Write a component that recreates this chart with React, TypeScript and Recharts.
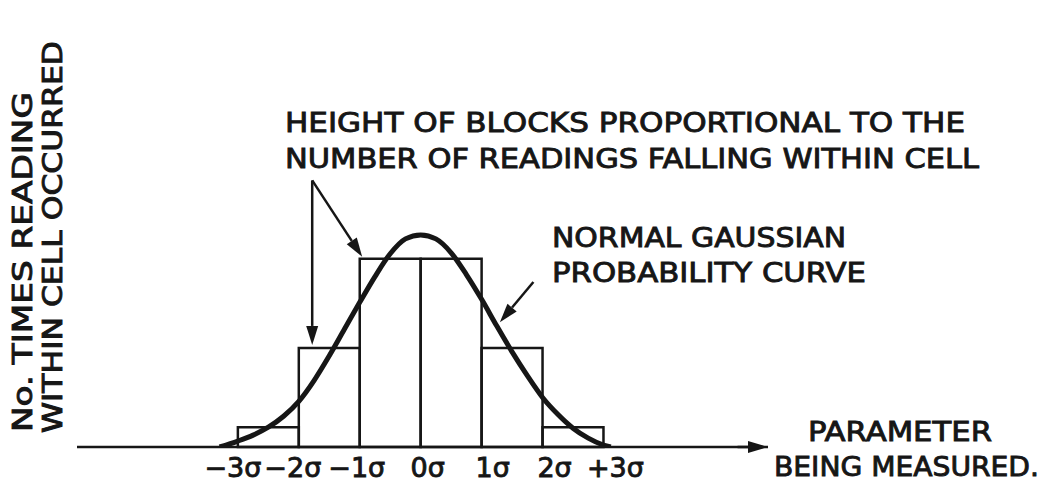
import { ComposedChart, Line, XAxis, YAxis, ReferenceArea, ReferenceLine } from 'recharts'

// cells of the histogram, in sigma units
const CELL_FROM = [-3, -2, -1, 0, 1, 2]
const CELL_TO = [-2, -1, 0, 1, 2, 3]
const CELL_COUNT = [2, 10, 19, 19, 10, 2]

// normal curve
const CURVE_S = [-3.3, -3.0, -2.75, -2.5, -2.25, -2.0, -1.75, -1.5, -1.25, -1.0, -0.75, -0.5, -0.25, 0, 0.25, 0.5, 0.75, 1.0, 1.25, 1.5, 1.75, 2.0, 2.25, 2.5, 2.75, 3.0, 3.12]
const CURVE_Y = [0, 0.6, 1.2, 2.0, 3.1, 4.6, 6.7, 9.2, 11.9, 14.6, 17.2, 19.5, 21.0, 21.4, 21.0, 19.6, 17.4, 14.9, 12.2, 9.6, 7.2, 5.0, 3.3, 1.9, 0.9, 0.2, 0]

const SIGMA_TICKS = [-3, -2, -1, 0, 1, 2, 3]
const TICK_LABELS = ['−3σ', '−2σ', '−1σ', '0σ', '1σ', '2σ', '+3σ']

const INK = '#161616'
const FONT = '"DejaVu Sans", "Liberation Sans", sans-serif'

const curve = CURVE_S.map((s, i) => ({ s, y: CURVE_Y[i] }))

// small nudges so the hand-lettered labels sit like in the original
const NUDGE = [-5, -6, -3, 7, 11, 12, 12]

const SigmaTick = ({ x, y, payload }: any) => {
  const i = SIGMA_TICKS.indexOf(payload.value)
  return (
    <text x={x + (NUDGE[i] ?? 0)} y={y + 30} textAnchor="middle" fontSize={27} fontFamily={FONT}
      fill={INK} stroke={INK} strokeWidth={0.9}>
      {TICK_LABELS[i]}
    </text>
  )
}

const Arrow = ({ x1, y1, x2, y2, head = 19, half = 6 }: any) => {
  if (x1 == null) return null
  const a = Math.atan2(y2 - y1, x2 - x1)
  const bx = x2 - head * Math.cos(a)
  const by = y2 - head * Math.sin(a)
  const px = -Math.sin(a) * half
  const py = Math.cos(a) * half
  return (
    <g>
      <line x1={x1} y1={y1} x2={bx} y2={by} stroke={INK} strokeWidth={2.5} />
      <polygon points={`${x2},${y2} ${bx + px},${by + py} ${bx - px},${by - py}`} fill={INK} />
    </g>
  )
}

const txt = { fontFamily: FONT, fontSize: 27, fill: INK, stroke: INK, strokeWidth: 0.9, lengthAdjust: 'spacingAndGlyphs' as const }

export default function App() {
  return (
    <div style={{ position: 'absolute', left: 0, top: 0, background: '#fff' }}>
      <ComposedChart width={1047} height={483} margin={{ top: 10, right: 279, bottom: 0, left: 77 }}>
        <XAxis type="number" dataKey="s" domain={[-5.64, 5.7]} ticks={SIGMA_TICKS} allowDataOverflow
          height={36} tickSize={0} tickMargin={0} tick={<SigmaTick />}
          axisLine={{ stroke: INK, strokeWidth: 2.5 }} tickLine={false} />
        <YAxis type="number" domain={[0, 44.1]} width={0} tick={false} tickLine={false}
          axisLine={{ stroke: INK, strokeWidth: 2.5 }} allowDataOverflow />

        {CELL_COUNT.map((c, i) => (
          <ReferenceArea key={i} x1={CELL_FROM[i]} x2={CELL_TO[i]} y1={0} y2={c}
            fill="#fff" fillOpacity={0} stroke={INK} strokeWidth={2.5} strokeOpacity={1} />
        ))}

        <Line data={curve} dataKey="y" type="monotone" stroke={INK} strokeWidth={5} dot={false}
          isAnimationActive={false} />

        {/* x axis arrowhead */}
        <ReferenceLine segment={[{ x: 5.2, y: 0 }, { x: 5.7, y: 0 }]} ifOverflow="visible"
          shape={(p: any) => <Arrow {...p} head={20} half={6} />} />

        {/* pointers from the notes */}
        <ReferenceLine segment={[{ x: -1.78, y: 26.9 }, { x: -1.78, y: 10.3 }]} ifOverflow="visible"
          shape={(p: any) => <Arrow {...p} />} />
        <ReferenceLine segment={[{ x: -1.78, y: 26.9 }, { x: -0.96, y: 19.2 }]} ifOverflow="visible"
          shape={(p: any) => <Arrow {...p} />} />
        <ReferenceLine segment={[{ x: 1.85, y: 16.65 }, { x: 1.3, y: 12.6 }]} ifOverflow="visible"
          shape={(p: any) => <Arrow {...p} />} />

        <text x={285} y={132} textLength={680} {...txt}>HEIGHT OF BLOCKS PROPORTIONAL TO THE</text>
        <text x={285} y={168} textLength={694} {...txt}>NUMBER OF READINGS FALLING WITHIN CELL</text>
        <text x={552} y={247} textLength={294} {...txt}>NORMAL GAUSSIAN</text>
        <text x={552} y={282} textLength={314} {...txt}>PROBABILITY CURVE</text>
        <text x={808} y={441} textLength={184} {...txt}>PARAMETER</text>
        <text x={774} y={476} textLength={265} {...txt}>BEING MEASURED.</text>

        <text transform="rotate(-90)" x={-432} y={32} textLength={340} {...txt} fontSize={26}>No. TIMES READING</text>
        <text transform="rotate(-90)" x={-433} y={62} textLength={392} {...txt} fontSize={26}>WITHIN CELL OCCURRED</text>
      </ComposedChart>
    </div>
  )
}
